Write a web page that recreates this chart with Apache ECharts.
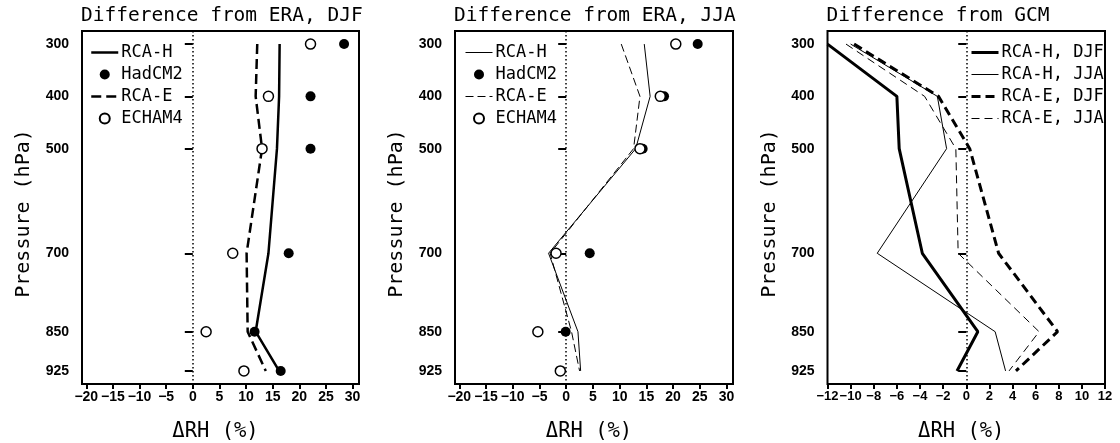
<!DOCTYPE html>
<html>
<head>
<meta charset="utf-8">
<script src="https://cdn.jsdelivr.net/npm/echarts@6/dist/echarts.min.js"></script>
<style>
  html, body { margin: 0; padding: 0; background: #fff; }
  #chart { width: 1120px; height: 443px; }
</style>
</head>
<body>
<div id="chart"></div>
<script>
// Pressure levels (hPa) shared by every profile
const levels = [300, 400, 500, 700, 850, 925];

// Panel 1: difference from ERA, DJF (ΔRH, %)
const djfRcaH    = [16.3, 16.2, 15.8, 14.2, 11.8, 16.2];
const djfHadCM2  = [28.4, 22.1, 22.1, 18.0, 11.6, 16.5];
const djfRcaE    = [12.1, 11.8, 13.0, 10.1, 10.3, 13.7];
const djfEcham4  = [22.1, 14.2, 13.0, 7.5, 2.5, 9.6];

// Panel 2: difference from ERA, JJA (ΔRH, %)
const jjaRcaH    = [14.6, 15.7, 13.0, -3.3, 2.2, 2.7];
const jjaHadCM2  = [24.6, 18.3, 14.3, 4.4, -0.1, null];
const jjaRcaE    = [10.3, 13.8, 12.6, -3.0, 1.0, 2.5];
const jjaEcham4  = [20.5, 17.6, 13.8, -1.9, -5.3, -1.1];

// Panel 3: difference from the driving GCM (ΔRH, %)
const gcmRcaHDjf = [-12.0, -6.0, -5.8, -3.8, 1.0, -0.8];
const gcmRcaHJja = [-10.0, -2.5, -1.7, -7.7, 2.5, 3.4];
const gcmRcaEDjf = [-9.7, -2.4, 0.3, 2.8, 7.9, 4.3];
const gcmRcaEJja = [-10.4, -3.6, -0.9, -0.7, 6.3, 3.7];

// Tick labels
const pressureTicks = [300, 400, 500, 700, 850, 925];
const eraTicks = [-20, -15, -10, -5, 0, 5, 10, 15, 20, 25, 30];
const gcmTicks = [-12, -10, -8, -6, -4, -2, 0, 2, 4, 6, 8, 10, 12];

const titles = ['Difference from ERA, DJF', 'Difference from ERA, JJA', 'Difference from GCM'];

const MONO = '"DejaVu Sans Mono", "Liberation Mono", monospace';
const SANS = '"Liberation Sans", Arial, Helvetica, sans-serif';

function profile(values) {
  return values.map((v, i) => [v, levels[i]]).filter(p => p[0] !== null);
}

const grids = [
  { left: 82, top: 31, width: 277, height: 353 },
  { left: 455, top: 31, width: 278, height: 353 },
  { left: 827.5, top: 31, width: 277.5, height: 353 }
].map(g => Object.assign({
  show: true, borderColor: '#000', borderWidth: 2, backgroundColor: 'transparent',
  containLabel: false, outerBoundsMode: 'none'
}, g));

// negative tick values are written with a true minus sign
const minusFmt = v => String(v).replace('-', '\u2212');
const tickStyle = { color: '#000', width: 2 };

function xAxis(idx, min, max, ticks, labelSize) {
  return {
    type: 'value', gridIndex: idx, min: min, max: max,
    name: 'ΔRH (%)', nameLocation: 'middle', nameGap: 37,
    nameTextStyle: { fontFamily: MONO, fontSize: 20.5, color: '#000', padding: [0, 10, 0, 0] },
    axisLine: { show: false },
    axisTick: { show: true, length: 5, customValues: ticks, lineStyle: tickStyle },
    axisLabel: {
      customValues: ticks, interval: 0, hideOverlap: false, showMinLabel: true, showMaxLabel: true,
      color: '#000', fontFamily: SANS, fontWeight: 'bold', fontSize: labelSize, margin: 6, formatter: minusFmt
    },
    splitLine: { show: false }
  };
}

function yAxis(idx) {
  return {
    type: 'value', gridIndex: idx, min: 275, max: 950, inverse: true,
    name: 'Pressure (hPa)', nameLocation: 'middle', nameGap: 48, nameRotate: 90,
    nameTextStyle: { fontFamily: MONO, fontSize: 20, color: '#000', padding: [0, 12, 0, 0] },
    axisLine: { show: false },
    axisTick: { show: true, length: 8, customValues: pressureTicks, lineStyle: tickStyle },
    axisLabel: { color: '#000', fontFamily: SANS, fontWeight: 'bold', fontSize: 14, margin: 13, customValues: pressureTicks },
    splitLine: { show: false }
  };
}

const zeroLine = {
  silent: true, symbol: 'none', label: { show: false },
  lineStyle: { color: '#000', width: 1.5, type: [1.5, 2.5] },
  data: [{ xAxis: 0 }]
};

function lineSeries(name, idx, values, width, dash, withZero) {
  const s = {
    name: name, type: 'line', xAxisIndex: idx, yAxisIndex: idx,
    data: profile(values), symbol: 'none', silent: true, animation: false,
    itemStyle: { color: '#000' },
    lineStyle: { color: '#000', width: width, type: dash || 'solid' }
  };
  if (withZero) s.markLine = zeroLine;
  return s;
}

function pointSeries(name, idx, values, filled) {
  return {
    name: name, type: 'scatter', xAxisIndex: idx, yAxisIndex: idx,
    data: profile(values), symbol: 'circle', symbolSize: 10, silent: true, animation: false, z: 5,
    itemStyle: filled ? { color: '#000', opacity: 1 } : { color: '#fff', borderColor: '#000', borderWidth: 1.5, opacity: 1 }
  };
}

// legend entries: profile lines show only their line sample (same width as the profile),
// points show their marker
function legend(left, entries, labels) {
  const names = entries.map(e => e.name);
  return {
    orient: 'vertical', left: left, top: 44, itemWidth: 27, itemHeight: 10, itemGap: 5,
    selectedMode: false, padding: 0,
    data: entries.map(e => e.width
      ? { name: e.name, itemStyle: { opacity: 0 }, lineStyle: { width: e.width } }
      : { name: e.name }),
    formatter: n => labels[names.indexOf(n)],
    textStyle: { fontFamily: MONO, fontSize: 17, color: '#000', lineHeight: 16, padding: [0, 0, 0, -2] }
  };
}

const option = {
  backgroundColor: '#fff',
  animation: false,
  title: titles.map((t, i) => ({
    text: t, left: grids[i].left - 1, top: 6, padding: 0,
    textStyle: { fontFamily: MONO, fontSize: 19.5, fontWeight: 'normal', color: '#000' }
  })),
  grid: grids,
  xAxis: [
    xAxis(0, -20.8, 31.2, eraTicks, 14),
    xAxis(1, -20.8, 31.2, eraTicks, 14),
    xAxis(2, -12, 12, gcmTicks, 13)
  ],
  yAxis: [yAxis(0), yAxis(1), yAxis(2)],
  legend: [
    legend(90, [{ name: 'DJF RCA-H', width: 2.5 }, { name: 'DJF HadCM2' }, { name: 'DJF RCA-E', width: 2.5 }, { name: 'DJF ECHAM4' }],
           ['RCA-H', 'HadCM2', 'RCA-E', 'ECHAM4']),
    legend(465, [{ name: 'JJA RCA-H', width: 1 }, { name: 'JJA HadCM2' }, { name: 'JJA RCA-E', width: 1 }, { name: 'JJA ECHAM4' }],
           ['RCA-H', 'HadCM2', 'RCA-E', 'ECHAM4']),
    legend(970, [{ name: 'RCA-H, DJF', width: 3 }, { name: 'RCA-H, JJA', width: 1 }, { name: 'RCA-E, DJF', width: 3 }, { name: 'RCA-E, JJA', width: 1 }],
           ['RCA-H, DJF', 'RCA-H, JJA', 'RCA-E, DJF', 'RCA-E, JJA'])
  ],
  series: [
    lineSeries('DJF RCA-H', 0, djfRcaH, 2.5, null, true),
    lineSeries('DJF RCA-E', 0, djfRcaE, 2.5, [10, 5]),
    pointSeries('DJF HadCM2', 0, djfHadCM2, true),
    pointSeries('DJF ECHAM4', 0, djfEcham4, false),

    lineSeries('JJA RCA-H', 1, jjaRcaH, 1, null, true),
    lineSeries('JJA RCA-E', 1, jjaRcaE, 1, [8, 4]),
    pointSeries('JJA HadCM2', 1, jjaHadCM2, true),
    pointSeries('JJA ECHAM4', 1, jjaEcham4, false),

    lineSeries('RCA-H, DJF', 2, gcmRcaHDjf, 3, null, true),
    lineSeries('RCA-H, JJA', 2, gcmRcaHJja, 1),
    lineSeries('RCA-E, DJF', 2, gcmRcaEDjf, 3, [9, 5]),
    lineSeries('RCA-E, JJA', 2, gcmRcaEJja, 1, [8, 5])
  ]
};

const chart = echarts.init(document.getElementById('chart'), null, { renderer: 'canvas' });
chart.setOption(option);
</script>
</body>
</html>
